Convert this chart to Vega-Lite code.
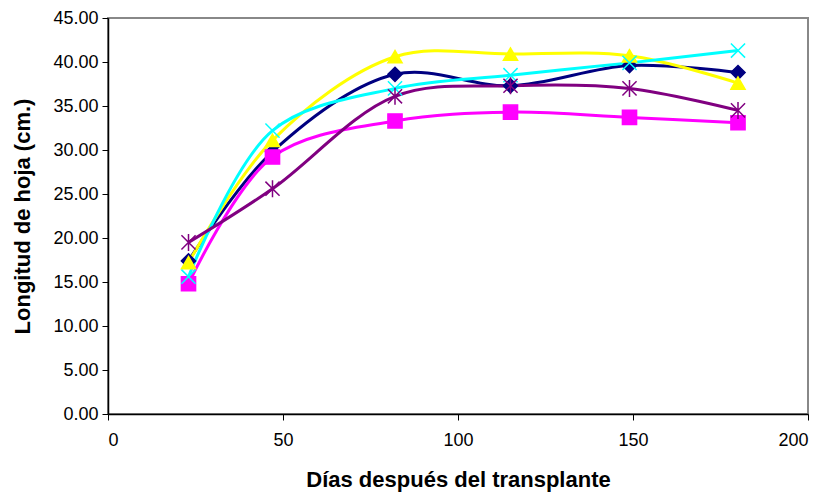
{
  "$schema": "https://vega.github.io/schema/vega-lite/v6.json",
  "autosize": "none",
  "width": 700,
  "height": 396,
  "padding": {"left": 108, "top": 18, "right": 18, "bottom": 82},
  "background": "white",
  "config": {
    "font": "Liberation Sans",
    "view": {"stroke": "#888888", "strokeWidth": 2},
    "axis": {
      "grid": false,
      "domainColor": "black",
      "domainWidth": 1.5,
      "tickColor": "black",
      "tickWidth": 1,
      "tickSize": 6,
      "labelFont": "Liberation Sans",
      "labelFontSize": 18,
      "labelColor": "black",
      "titleFont": "Liberation Sans",
      "titleFontSize": 22,
      "titleFontWeight": "bold",
      "titleColor": "black"
    }
  },
  "data": {
    "values": [
      {"serie": "A", "dias": 23, "longitud": 17.4},
      {"serie": "A", "dias": 47, "longitud": 29.8},
      {"serie": "A", "dias": 82, "longitud": 38.6},
      {"serie": "A", "dias": 115, "longitud": 37.3},
      {"serie": "A", "dias": 149, "longitud": 39.6},
      {"serie": "A", "dias": 180, "longitud": 38.8},
      {"serie": "B", "dias": 23, "longitud": 14.8},
      {"serie": "B", "dias": 47, "longitud": 29.2},
      {"serie": "B", "dias": 82, "longitud": 33.3},
      {"serie": "B", "dias": 115, "longitud": 34.3},
      {"serie": "B", "dias": 149, "longitud": 33.7},
      {"serie": "B", "dias": 180, "longitud": 33.1},
      {"serie": "C", "dias": 23, "longitud": 17.2},
      {"serie": "C", "dias": 47, "longitud": 31.1},
      {"serie": "C", "dias": 82, "longitud": 40.6},
      {"serie": "C", "dias": 115, "longitud": 40.9},
      {"serie": "C", "dias": 149, "longitud": 40.7},
      {"serie": "C", "dias": 180, "longitud": 37.6},
      {"serie": "D", "dias": 23, "longitud": 15.6},
      {"serie": "D", "dias": 47, "longitud": 32.2},
      {"serie": "D", "dias": 82, "longitud": 37.0},
      {"serie": "D", "dias": 115, "longitud": 38.5},
      {"serie": "D", "dias": 149, "longitud": 39.9},
      {"serie": "D", "dias": 180, "longitud": 41.3},
      {"serie": "E", "dias": 23, "longitud": 19.5},
      {"serie": "E", "dias": 47, "longitud": 25.6},
      {"serie": "E", "dias": 82, "longitud": 36.1},
      {"serie": "E", "dias": 115, "longitud": 37.3},
      {"serie": "E", "dias": 149, "longitud": 37.0},
      {"serie": "E", "dias": 180, "longitud": 34.5}
    ]
  },
  "encoding": {
    "x": {
      "field": "dias", "type": "quantitative",
      "scale": {"domain": [0, 200], "nice": false},
      "axis": {"values": [0, 50, 100, 150, 200], "title": "Días después del transplante", "labelPadding": 11, "titlePadding": 20}
    },
    "y": {
      "field": "longitud", "type": "quantitative",
      "scale": {"domain": [0, 45], "nice": false},
      "axis": {"values": [0, 5, 10, 15, 20, 25, 30, 35, 40, 45], "format": ".2f", "title": "Longitud de hoja (cm.)", "labelPadding": 4, "titlePadding": 18}
    },
    "color": {
      "field": "serie", "type": "nominal",
      "scale": {"domain": ["A", "B", "C", "D", "E"], "range": ["#000080", "#FF00FF", "#FFFF00", "#00FFFF", "#800080"]},
      "legend": null
    }
  },
  "layer": [
    {
      "mark": {"type": "line", "interpolate": "catmull-rom", "strokeWidth": 3}
    },
    {
      "mark": {"type": "point", "filled": true, "size": 200, "strokeWidth": 1.5, "opacity": 1},
      "encoding": {
        "shape": {
          "field": "serie", "type": "nominal",
          "scale": {"domain": ["A", "B", "C", "D", "E"], "range": ["diamond", "square", "triangle-up", "M-1,-1L1,1M-1,1L1,-1", "M-1,-1L1,1M-1,1L1,-1M0,-1.2L0,1.2"]},
          "legend": null
        },
        "stroke": {
          "field": "serie", "type": "nominal",
          "scale": {"domain": ["A", "B", "C", "D", "E"], "range": ["#000080", "#FF00FF", "#FFFF00", "#00FFFF", "#800080"]},
          "legend": null
        }
      }
    }
  ]
}
